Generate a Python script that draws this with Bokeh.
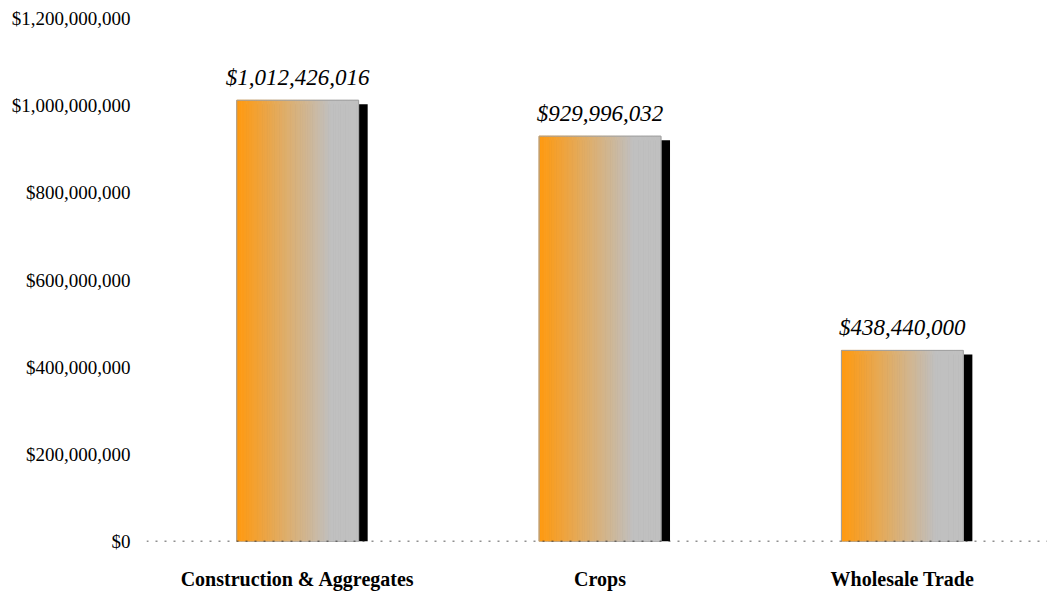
from bokeh.plotting import figure
from bokeh.models import Range1d, FixedTicker, NumeralTickFormatter, ColumnDataSource, Span
from bokeh.core.properties import value
from bokeh.embed import file_html
from bokeh.resources import INLINE

categories = ["Construction & Aggregates", "Crops", "Wholesale Trade"]
values = [1012426016, 929996032, 438440000]
value_labels = ["$1,012,426,016", "$929,996,032", "$438,440,000"]
y_ticks = [0, 200000000, 400000000, 600000000, 800000000, 1000000000, 1200000000]

SERIF = "Liberation Serif"

p = figure(width=1047, height=592, output_backend="svg", toolbar_location=None,
           x_range=Range1d(-0.5, 2.48), y_range=Range1d(0, 1.2e9),
           min_border_left=146, min_border_right=0, min_border_top=18, min_border_bottom=50)
p.outline_line_color = None
p.xgrid.visible = False
p.ygrid.visible = False
p.background_fill_color = "white"
p.border_fill_color = "white"

xs = list(range(len(categories)))
bw = 0.403
dx = 0.03
dy = 9.2e6

# shadows
p.quad(left=[x - bw / 2 + dx for x in xs], right=[x + bw / 2 + dx for x in xs],
       top=[v - dy for v in values], bottom=[0] * len(values),
       fill_color="black", line_color=None)

# gradient bars
c0 = (255, 154, 16)
c1 = (192, 192, 192)
N = 48
L, R, T, B, C = [], [], [], [], []
for x, v in zip(xs, values):
    for k in range(N):
        t = k / (N - 1)
        f = min(t / 0.78, 1.0)
        col = tuple(int(round(c0[i] + (c1[i] - c0[i]) * f)) for i in range(3))
        L.append(x - bw / 2 + bw * k / N)
        R.append(x - bw / 2 + bw * (k + 1) / N)
        T.append(v)
        B.append(0)
        C.append("#%02x%02x%02x" % col)
p.quad(left=L, right=R, top=T, bottom=B, fill_color=C, line_color=C, line_width=1)
p.quad(left=[x - bw / 2 for x in xs], right=[x + bw / 2 for x in xs],
       top=values, bottom=[0] * len(values), fill_color=None,
       line_color="#a0a0a0", line_width=1)

# baseline
p.add_layout(Span(location=0, dimension="width", line_color="#222222",
                  line_dash="2 7", line_width=1.5))

# value labels
src = ColumnDataSource(dict(x=xs, y=values, t=value_labels))
p.text(x="x", y="y", text="t", source=src, text_align="center", text_baseline="bottom",
       y_offset=-10, text_font=value(SERIF), text_font_style="italic",
       text_font_size="23px", text_color="black")

# axes
p.yaxis.ticker = FixedTicker(ticks=y_ticks)
p.yaxis.formatter = NumeralTickFormatter(format="$0,0")
p.yaxis.axis_line_color = None
p.yaxis.major_tick_line_color = None
p.yaxis.minor_tick_line_color = None
p.yaxis.major_label_text_font = SERIF
p.yaxis.major_label_text_font_size = "19px"
p.yaxis.major_label_text_color = "black"
p.yaxis.major_label_standoff = 10

p.xaxis.ticker = FixedTicker(ticks=xs)
p.xaxis.major_label_overrides = {i: c for i, c in enumerate(categories)}
p.xaxis.axis_line_color = None
p.xaxis.major_tick_line_color = None
p.xaxis.minor_tick_line_color = None
p.xaxis.major_label_text_font = SERIF
p.xaxis.major_label_text_font_style = "bold"
p.xaxis.major_label_text_font_size = "20px"
p.xaxis.major_label_text_color = "black"
p.xaxis.major_label_standoff = 20

open("out.html", "w").write(file_html(p, INLINE))
